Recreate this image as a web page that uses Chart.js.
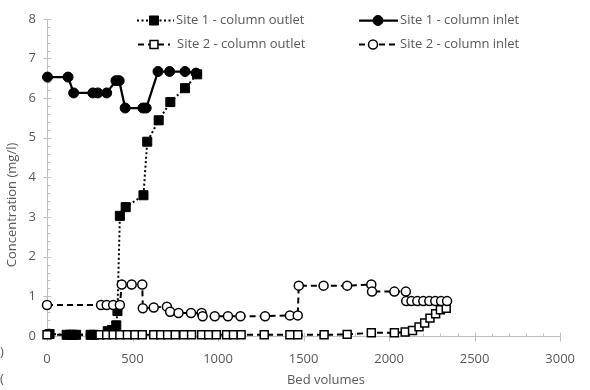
<!DOCTYPE html>
<html>
<head>
<meta charset="utf-8">
<script src="https://cdn.jsdelivr.net/npm/chart.js@4/dist/chart.umd.min.js"></script>
<style>
  html, body { margin: 0; padding: 0; background: #fff; }
  #wrap { width: 590px; height: 390px; position: relative; }
</style>
</head>
<body>
<div id="wrap"><canvas id="c" width="590" height="390"></canvas></div>
<script>
// Site 1 - column outlet
const s1OutletBV   = [15, 115, 135, 150, 170, 255, 275, 355, 380, 405, 412, 426, 460, 564, 586, 653, 721, 807, 878];
const s1OutletConc = [0.05, 0.03, 0.03, 0.03, 0.03, 0.03, 0.03, 0.12, 0.15, 0.27, 0.63, 3.03, 3.25, 3.55, 4.9, 5.44, 5.9, 6.25, 6.6];

// Site 1 - column inlet
const s1InletBV   = [3, 123, 156, 268, 297, 349, 403, 422, 457, 561, 580, 649, 717, 807, 872];
const s1InletConc = [6.53, 6.53, 6.13, 6.13, 6.13, 6.13, 6.44, 6.44, 5.75, 5.75, 5.75, 6.67, 6.67, 6.67, 6.63];

// Site 2 - column outlet
const s2OutletBV   = [0, 310, 349, 387, 426, 470, 514, 557, 624, 665, 705, 750, 800, 845, 904, 945, 990, 1050, 1090, 1135, 1270, 1420, 1466, 1620, 1755, 1896, 2031, 2094, 2137, 2175, 2208, 2239, 2272, 2300, 2334];
const s2OutletConc = [0.03, 0.03, 0.03, 0.03, 0.03, 0.03, 0.03, 0.03, 0.03, 0.03, 0.03, 0.03, 0.03, 0.03, 0.03, 0.03, 0.03, 0.03, 0.03, 0.03, 0.03, 0.03, 0.03, 0.03, 0.04, 0.08, 0.08, 0.1, 0.14, 0.23, 0.33, 0.45, 0.56, 0.66, 0.7];

// Site 2 - column inlet
const s2InletBV   = [0, 316, 349, 387, 426, 437, 495, 557, 560, 624, 701, 720, 769, 842, 904, 910, 981, 1058, 1131, 1275, 1420, 1466, 1472, 1617, 1755, 1896, 1900, 2031, 2098, 2100, 2131, 2165, 2200, 2235, 2270, 2304, 2339];
const s2InletConc = [0.78, 0.78, 0.78, 0.78, 0.78, 1.3, 1.3, 1.3, 0.7, 0.72, 0.74, 0.61, 0.58, 0.58, 0.58, 0.5, 0.5, 0.5, 0.5, 0.5, 0.52, 0.52, 1.27, 1.27, 1.27, 1.3, 1.12, 1.12, 1.12, 0.88, 0.88, 0.88, 0.88, 0.88, 0.88, 0.88, 0.88];

// Axis settings
const xMax = 3000, xStep = 500, xMinor = 100;
const yMax = 8, yStep = 1, yMinor = 0.2;
const xTitle = 'Bed volumes';
const yTitle = 'Concentration (mg/l)';

const FONT = "'Open Sans', 'DejaVu Sans', sans-serif";
const TEXT = '#595959';
const AXIS = '#BFBFBF';

const pts = (xs, ys) => xs.map((v, i) => ({ x: v, y: ys[i] }));

// Axis lines with major cross ticks and small minor ticks
const axisDecor = {
  id: 'axisDecor',
  beforeDatasetsDraw(chart) {
    const { ctx, scales: { x, y } } = chart;
    const x0 = Math.round(x.getPixelForValue(0)) + 0.5;
    const y0 = Math.round(y.getPixelForValue(0)) + 0.5;
    ctx.save();
    ctx.strokeStyle = AXIS;
    ctx.lineWidth = 1;
    ctx.beginPath();
    ctx.moveTo(x0, Math.round(y.getPixelForValue(yMax)));
    ctx.lineTo(x0, y0);
    ctx.lineTo(Math.round(x.getPixelForValue(xMax)) + 1, y0);
    const ny = Math.round(yMax / yMinor);
    for (let i = 0; i <= ny; i++) {
      const py = Math.round(y.getPixelForValue(i * yMinor)) + 0.5;
      if (i % Math.round(yStep / yMinor) === 0) { ctx.moveTo(x0 - 4, py); ctx.lineTo(x0 + 4, py); }
      else { ctx.moveTo(x0, py); ctx.lineTo(x0 + 3, py); }
    }
    const nx = Math.round(xMax / xMinor);
    for (let i = 0; i <= nx; i++) {
      const px = Math.round(x.getPixelForValue(i * xMinor)) + 0.5;
      if (i % Math.round(xStep / xMinor) === 0) { ctx.moveTo(px, y0 - 4); ctx.lineTo(px, y0 + 5); }
      else { ctx.moveTo(px, y0 - 3); ctx.lineTo(px, y0); }
    }
    ctx.stroke();
    ctx.restore();
  }
};

// Axis titles and the two-column legend
const textDecor = {
  id: 'textDecor',
  afterDraw(chart) {
    const { ctx } = chart;
    ctx.save();
    ctx.fillStyle = TEXT;
    ctx.font = '13px ' + FONT;
    ctx.textBaseline = 'middle';
    ctx.textAlign = 'center';
    ctx.fillText(xTitle, 326, 380);
    ctx.save();
    ctx.translate(12, 205);
    ctx.rotate(-Math.PI / 2);
    ctx.fillText(yTitle, 0, 0);
    ctx.restore();
    ctx.textAlign = 'left';
    ctx.fillText(')', 0, 352);
    ctx.fillText('(', 0, 379);

    const ds = chart.data.datasets;
    const items = [
      { d: ds[0], x1: 137, x2: 174, y: 20, mx: 154, tx: 176 },
      { d: ds[1], x1: 359, x2: 398, y: 20, mx: 378, tx: 400 },
      { d: ds[2], x1: 138, x2: 170, y: 44, mx: 154, tx: 177 },
      { d: ds[3], x1: 359, x2: 398, y: 44, mx: 373, tx: 400 }
    ];
    for (const it of items) {
      const d = it.d;
      ctx.save();
      ctx.strokeStyle = '#000';
      ctx.lineWidth = d.borderWidth;
      ctx.setLineDash(d.borderDash || []);
      ctx.beginPath();
      ctx.moveTo(it.x1, it.y + 0.5);
      ctx.lineTo(it.x2, it.y + 0.5);
      ctx.stroke();
      ctx.setLineDash([]);
      ctx.fillStyle = d.pointBackgroundColor;
      ctx.strokeStyle = '#000';
      ctx.lineWidth = d.pointBorderWidth;
      Chart.helpers.drawPoint(ctx, { pointStyle: d.pointStyle, radius: d.pointRadius, rotation: 0, borderWidth: d.pointBorderWidth }, it.mx, it.y + 0.5);
      ctx.restore();
      ctx.fillStyle = TEXT;
      ctx.fillText(d.label, it.tx, it.y);
    }
    ctx.restore();
  }
};

Chart.defaults.font.family = FONT;
Chart.defaults.font.size = 13;
Chart.defaults.color = TEXT;

new Chart(document.getElementById('c'), {
  type: 'scatter',
  data: {
    datasets: [
      {
        label: 'Site 1 - column outlet',
        data: pts(s1OutletBV, s1OutletConc),
        showLine: true, borderColor: '#000', borderWidth: 2, borderDash: [2, 2.5],
        pointStyle: 'rect', pointRadius: 6.4, pointBackgroundColor: '#000', pointBorderColor: '#000', pointBorderWidth: 1,
        clip: false, order: 4
      },
      {
        label: 'Site 1 - column inlet',
        data: pts(s1InletBV, s1InletConc),
        showLine: true, borderColor: '#000', borderWidth: 2.25,
        pointStyle: 'circle', pointRadius: 5, pointBackgroundColor: '#000', pointBorderColor: '#000', pointBorderWidth: 1,
        clip: false, order: 1
      },
      {
        label: 'Site 2 - column outlet',
        data: pts(s2OutletBV, s2OutletConc),
        showLine: true, borderColor: '#000', borderWidth: 2, borderDash: [6, 4],
        pointStyle: 'rect', pointRadius: 5.6, pointBackgroundColor: '#fff', pointBorderColor: '#000', pointBorderWidth: 1.5,
        clip: false, order: 3
      },
      {
        label: 'Site 2 - column inlet',
        data: pts(s2InletBV, s2InletConc),
        showLine: true, borderColor: '#000', borderWidth: 2, borderDash: [6, 4],
        pointStyle: 'circle', pointRadius: 4.5, pointBackgroundColor: '#fff', pointBorderColor: '#000', pointBorderWidth: 1.5,
        clip: false, order: 2
      }
    ]
  },
  options: {
    responsive: false,
    animation: false,
    devicePixelRatio: 1,
    layout: { padding: { left: 0, right: 24, top: 16, bottom: 0 } },
    plugins: { legend: { display: false }, tooltip: { enabled: false } },
    scales: {
      x: {
        type: 'linear', min: 0, max: xMax,
        ticks: { stepSize: xStep, padding: 15, color: TEXT, font: { size: 13 }, callback: v => String(v) },
        grid: { display: false, drawTicks: false },
        border: { display: false },
        afterFit(scale) { scale.height = 54; }
      },
      y: {
        type: 'linear', min: 0, max: yMax,
        ticks: { stepSize: yStep, padding: 11, color: TEXT, font: { size: 13 }, callback: v => String(v) },
        grid: { display: false, drawTicks: false },
        border: { display: false },
        afterFit(scale) { scale.width = 47; }
      }
    }
  },
  plugins: [axisDecor, textDecor]
});
</script>
</body>
</html>
